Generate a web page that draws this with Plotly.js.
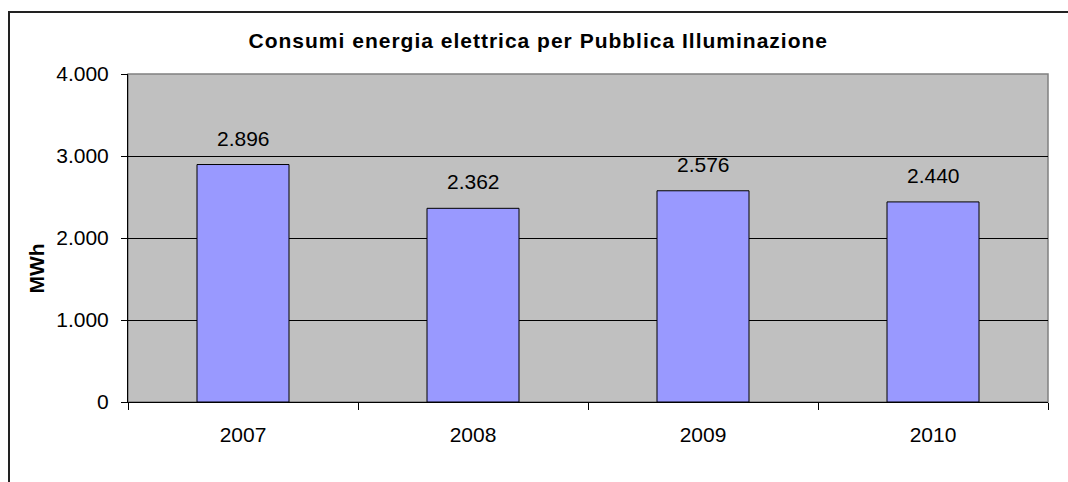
<!DOCTYPE html>
<html>
<head>
<meta charset="utf-8">
<script src="https://cdn.plot.ly/plotly-3.0.1.min.js"></script>
<style>
html,body{margin:0;padding:0;background:#fff;}
#wrap{position:relative;width:1068px;height:482px;overflow:hidden;}
#chart{width:1068px;height:482px;}
#frame{position:absolute;left:8px;top:11px;width:1200px;height:600px;border-left:2px solid #222;border-top:2px solid #222;pointer-events:none;}
#chart .gtitle{letter-spacing:1px;}
</style>
</head>
<body>
<div id="wrap">
<div id="chart"></div>
<div id="frame"></div>
</div>
<script>
const years = ["2007", "2008", "2009", "2010"];
const consumiMWh = [2896, 2362, 2576, 2440];
const valueLabels = ["2.896", "2.362", "2.576", "2.440"];
const yTickVals = [0, 1000, 2000, 3000, 4000];
const yTickText = ["0", "1.000", "2.000", "3.000", "4.000"];

const FONT = "Liberation Sans, Arial, sans-serif";
const FS = 21;

const trace = {
  type: "bar",
  x: years,
  y: consumiMWh,
  width: 0.4,
  marker: {color: "#9999FF", line: {color: "#000000", width: 1}},
  hoverinfo: "none"
};

const annotations = years.map((yr, i) => ({
  x: i, y: consumiMWh[i], xref: "x", yref: "y",
  text: valueLabels[i], showarrow: false,
  yanchor: "bottom", yshift: 13,
  font: {family: FONT, size: FS, color: "#000"}
}));
annotations.push({
  xref: "paper", yref: "paper", x: -0.0995, y: 0.4085,
  text: "<b>MWh</b>", textangle: -90, showarrow: false,
  xanchor: "center", yanchor: "middle",
  font: {family: FONT, size: FS, color: "#000"}
});

const layout = {
  width: 1068, height: 482,
  margin: {l: 128, r: 20, t: 74, b: 80, pad: 0},
  paper_bgcolor: "#ffffff",
  plot_bgcolor: "#C0C0C0",
  showlegend: false,
  title: {
    text: "<b>Consumi energia elettrica per Pubblica Illuminazione</b>",
    xref: "container", yref: "container",
    x: 0.504, y: 0.915, xanchor: "center", yanchor: "middle",
    font: {family: FONT, size: FS, color: "#000"}
  },
  xaxis: {
    type: "category",
    range: [-0.5, 3.5],
    autorange: false,
    tickson: "boundaries",
    tickangle: 0,
    ticks: "outside", ticklen: 7, tickcolor: "#000", tickwidth: 1,
    ticklabelstandoff: 14,
    showline: true, linecolor: "#000", linewidth: 1,
    showgrid: false, zeroline: false,
    tickfont: {family: FONT, size: FS, color: "#000"},
    fixedrange: true
  },
  yaxis: {
    range: [0, 4000],
    autorange: false,
    tickvals: yTickVals, ticktext: yTickText,
    ticks: "outside", ticklen: 6, tickcolor: "#000", tickwidth: 1,
    ticklabelstandoff: 8,
    showline: true, linecolor: "#000", linewidth: 1,
    showgrid: true, gridcolor: "#000", gridwidth: 1,
    zeroline: false,
    tickfont: {family: FONT, size: FS, color: "#000"},
    fixedrange: true
  },
  shapes: [{
    type: "rect", xref: "paper", yref: "paper",
    x0: 0, x1: 1, y0: 0, y1: 1,
    line: {color: "#808080", width: 1.5}, layer: "below"
  }],
  annotations: annotations
};

Plotly.newPlot("chart", [trace], layout, {displayModeBar: false, staticPlot: true});
</script>
</body>
</html>
